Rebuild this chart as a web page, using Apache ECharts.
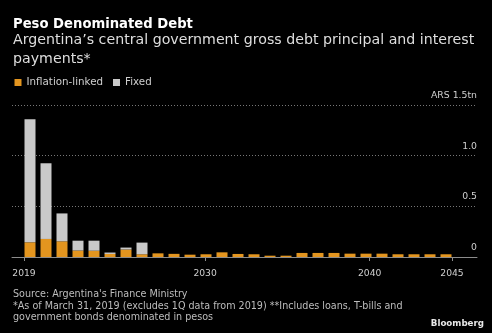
<!DOCTYPE html>
<html><head><meta charset="utf-8">
<script src="https://cdn.jsdelivr.net/npm/echarts@6/dist/echarts.min.js"></script>
<style>html,body{margin:0;padding:0;background:#000;}#c{width:492px;height:333px;}</style>
</head><body><div id="c"></div>
<script>
const years = ['2019','2020','2021','2022','2023','2024','2025','2026','2027','2028','2029','2030','2031','2032','2033','2034','2035','2036','2037','2038','2039','2040','2041','2042','2043','2044','2045'];
const inflationLinked = [0.145,0.178,0.155,0.064,0.062,0.030,0.074,0.027,0.036,0.031,0.023,0.027,0.046,0.030,0.027,0.013,0.013,0.040,0.040,0.040,0.033,0.033,0.033,0.027,0.027,0.027,0.027];
const fixed = [1.215,0.747,0.275,0.097,0.099,0.014,0.019,0.115,0,0,0,0,0,0,0,0,0,0,0,0,0,0,0,0,0,0,0];
const xTickYears = [2019, 2030, 2040, 2045];
const yMax = 1.5, yStep = 0.5;
const seriesNames = ['Inflation-linked', 'Fixed'];
const FONT = 'DejaVu Sans';

const chart = echarts.init(document.getElementById('c'), null, {renderer: 'canvas'});
chart.setOption({
  backgroundColor: '#000',
  animation: false,
  textStyle: {fontFamily: FONT},
  title: [
    {text: 'Peso Denominated Debt', left: 13, top: 15.5, padding: 0,
     textStyle: {color: '#fff', fontSize: 13.2, fontWeight: 'bold', fontFamily: FONT, lineHeight: 18}},
    {text: 'Argentina\u2019s central government gross debt principal and interest\npayments*', left: 13, top: 31.5, padding: 0,
     textStyle: {color: '#dedede', fontSize: 14.2, fontWeight: 'normal', fontFamily: FONT, lineHeight: 18.5}},
    {text: "Source: Argentina's Finance Ministry\n*As of March 31, 2019 (excludes 1Q data from 2019) **Includes loans, T-bills and\ngovernment bonds denominated in pesos",
     left: 13, top: 289, padding: 0,
     textStyle: {color: '#bdbdbd', fontSize: 9.6, fontWeight: 'normal', fontFamily: FONT, lineHeight: 11.5}},
    {text: 'Bloomberg', right: 8, top: 318, padding: 0,
     textStyle: {color: '#e8e8e8', fontSize: 8.7, fontWeight: 'bold', fontFamily: FONT, lineHeight: 12}}
  ],
  legend: {
    data: seriesNames, left: 14.5, top: 77.5, padding: 0, icon: 'rect',
    itemWidth: 7, itemHeight: 7, itemGap: 10,
    textStyle: {color: '#cfcfcf', fontSize: 10.3, fontFamily: FONT}
  },
  grid: [
    {left: 12, right: 15, top: 105, bottom: 76},
    {left: 22, right: 38, top: 105, bottom: 76},
    {left: 24, right: 40, top: 105, bottom: 76}
  ],
  xAxis: [
    {gridIndex: 0, type: 'value', min: 0, max: 1, axisLine: {show: true, lineStyle: {color: '#8c8c8c', width: 1}},
     axisTick: {show: false}, axisLabel: {show: false}, splitLine: {show: false}},
    {gridIndex: 1, type: 'category', data: years, show: false},
    {gridIndex: 2, type: 'value', min: 2019, max: 2045,
     axisLine: {show: false},
     axisTick: {show: true, customValues: xTickYears, length: 4, lineStyle: {color: '#8c8c8c'}},
     axisLabel: {customValues: xTickYears, formatter: v => String(v), color: '#cfcfcf', fontSize: 9.2, fontFamily: FONT, margin: 12},
     splitLine: {show: false}}
  ],
  yAxis: [
    {gridIndex: 0, type: 'value', min: 0, max: yMax, interval: yStep, position: 'right',
     axisLine: {show: false}, axisTick: {show: false},
     splitLine: {show: true, lineStyle: {type: [1, 2], color: '#777', width: 1}},
     axisLabel: {inside: true, margin: 0, verticalAlign: 'bottom', padding: [0, 0, 5, 0], color: '#cfcfcf', fontSize: 9.3, fontFamily: FONT,
       formatter: v => v === 0 ? '0' : (v === yMax ? 'ARS ' + v.toFixed(1) + 'tn' : v.toFixed(1))}},
    {gridIndex: 1, type: 'value', min: 0, max: yMax, interval: yStep, show: false},
    {gridIndex: 2, type: 'value', min: 0, max: yMax, interval: yStep, show: false}
  ],
  series: [
    {type: 'bar', name: seriesNames[0], xAxisIndex: 1, yAxisIndex: 1, stack: 'debt', data: inflationLinked,
     barWidth: 11, itemStyle: {color: '#e3951f'}},
    {type: 'bar', name: seriesNames[1], xAxisIndex: 1, yAxisIndex: 1, stack: 'debt', data: fixed,
     barWidth: 11, itemStyle: {color: '#c9c9c9'}}
  ]
});
</script></body></html>
